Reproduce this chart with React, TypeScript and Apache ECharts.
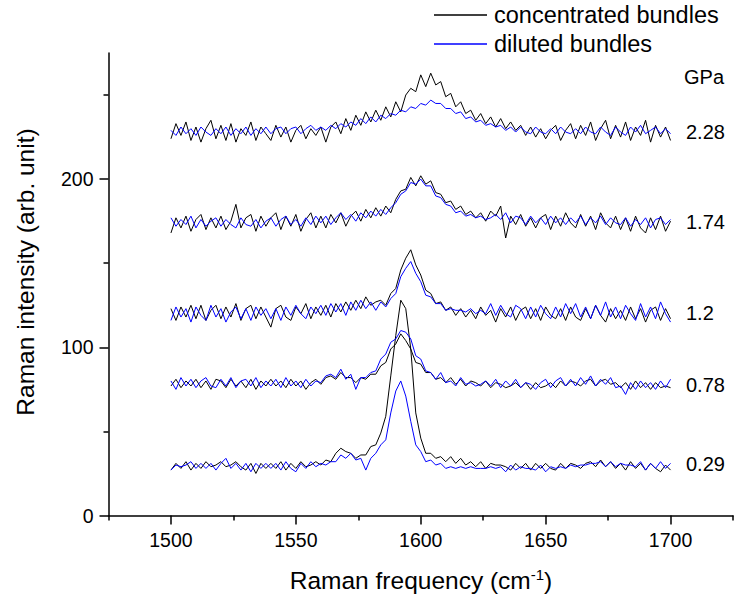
import React, { useEffect, useRef } from "react";
import * as echarts from "echarts";

// Raman frequency sample grid (cm-1)
const freq: number[] = Array.from({ length: 101 }, (_, i) => 1500 + 2 * i);

// 0.29 GPa
const conc029 = [
  27, 31, 28, 32, 27, 31, 28, 32, 29, 30,
  32, 29, 30, 32, 29, 27, 31, 25, 31, 28,
  31, 28, 32, 27, 31, 28, 32, 29, 30, 32,
  30, 33, 32, 37, 40, 38, 37, 34, 36, 36,
  41, 42, 49, 59, 83, 107, 128, 123, 99, 61,
  46, 37, 37, 34, 35, 32, 35, 31, 34, 30,
  32, 29, 32, 28, 31, 30, 30, 29, 27, 31,
  28, 31, 27, 31, 28, 31, 28, 27, 31, 28,
  31, 30, 28, 31, 32, 29, 33, 29, 32, 28,
  31, 27, 32, 28, 31, 27, 31, 28, 26, 30, 27,
];
const dil029 = [
  27, 30, 29, 30, 32, 28, 31, 28, 31, 27,
  31, 34, 28, 31, 27, 31, 26, 31, 28, 31,
  28, 31, 27, 32, 28, 26, 31, 28, 32, 29,
  31, 30, 32, 32, 36, 34, 37, 33, 34, 27,
  34, 37, 42, 45, 61, 74, 80, 71, 56, 42,
  38, 32, 33, 30, 31, 28, 29, 28, 29, 28,
  29, 28, 28, 28, 29, 28, 29, 26, 30, 27,
  29, 28, 28, 27, 30, 26, 29, 28, 29, 28,
  30, 29, 30, 30, 31, 31, 32, 29, 32, 29,
  31, 30, 30, 29, 32, 27, 31, 28, 32, 28, 31,
];

// 0.78 GPa
const conc078 = [
  77, 81, 76, 80, 77, 81, 76, 80, 75, 81,
  80, 76, 81, 77, 80, 76, 81, 75, 80, 77,
  81, 77, 80, 76, 81, 77, 80, 75, 79, 81,
  78, 82, 83, 81, 85, 82, 82, 79, 82, 81,
  84, 84, 89, 91, 99, 102, 108, 104, 99, 91,
  90, 85, 85, 81, 82, 79, 82, 78, 81, 77,
  80, 79, 77, 80, 76, 79, 78, 76, 77, 79,
  76, 79, 75, 79, 76, 77, 79, 76, 80, 77,
  80, 79, 77, 80, 81, 77, 80, 81, 78, 79,
  76, 79, 75, 80, 76, 79, 75, 79, 76, 77, 76,
];
const dil078 = [
  80, 75, 82, 77, 81, 76, 80, 82, 77, 76,
  81, 77, 82, 76, 80, 81, 77, 82, 76, 80,
  77, 81, 76, 82, 77, 80, 76, 81, 77, 80,
  79, 83, 84, 82, 87, 81, 84, 75, 82, 82,
  85, 86, 93, 96, 103, 105, 110, 109, 105, 95,
  93, 86, 85, 81, 85, 79, 80, 77, 82, 78,
  79, 77, 78, 80, 77, 81, 76, 80, 77, 81,
  76, 79, 78, 75, 79, 81, 76, 80, 82, 77,
  81, 77, 82, 78, 83, 77, 81, 78, 82, 76,
  77, 72, 79, 75, 80, 76, 79, 75, 80, 76, 81,
];

// 1.2 GPa
const conc12 = [
  123, 116, 124, 118, 125, 117, 125, 116, 122, 125,
  117, 124, 118, 126, 116, 123, 125, 117, 124, 118,
  112, 123, 125, 118, 116, 124, 120, 126, 117, 124,
  119, 125, 118, 126, 121, 127, 122, 128, 123, 130,
  125, 127, 128, 125, 132, 135, 146, 153, 158, 149,
  143, 134, 132, 126, 127, 122, 124, 119, 123, 118,
  122, 117, 124, 119, 122, 115, 123, 118, 124, 116,
  122, 124, 117, 123, 116, 124, 119, 117, 123, 116,
  124, 118, 116, 123, 117, 125, 119, 115, 123, 117,
  122, 116, 124, 117, 123, 115, 122, 124, 116, 123, 117,
];
const dil12 = [
  116, 124, 118, 123, 115, 124, 119, 116, 125, 118,
  123, 115, 121, 124, 117, 123, 116, 124, 119, 123,
  117, 123, 116, 124, 119, 125, 120, 117, 124, 120,
  125, 119, 126, 121, 126, 119, 127, 122, 128, 123,
  127, 122, 127, 124, 129, 132, 142, 147, 151, 144,
  139, 131, 130, 126, 126, 122, 123, 122, 122, 121,
  123, 120, 122, 120, 126, 119, 125, 120, 118, 125,
  123, 117, 124, 118, 125, 120, 117, 124, 118, 126,
  120, 126, 118, 124, 117, 125, 119, 127, 118, 124,
  117, 125, 120, 116, 126, 118, 124, 117, 127, 120, 115,
];

// 1.74 GPa
const conc174 = [
  168, 177, 171, 178, 169, 176, 179, 170, 177, 171,
  178, 170, 175, 185, 171, 177, 179, 169, 178, 172,
  177, 180, 170, 178, 172, 179, 169, 176, 180, 171,
  178, 171, 179, 174, 180, 172, 178, 181, 175, 182,
  177, 183, 178, 184, 180, 188, 193, 194, 201, 196,
  202, 197, 199, 192, 191, 186, 187, 182, 184, 179,
  181, 177, 180, 175, 181, 178, 184, 165, 178, 173,
  179, 172, 177, 171, 177, 179, 170, 178, 172, 180,
  174, 171, 179, 172, 178, 170, 180, 174, 171, 178,
  170, 177, 169, 178, 171, 168, 177, 170, 178, 169, 175,
];
const dil174 = [
  177, 172, 176, 173, 178, 171, 176, 172, 175, 177,
  172, 176, 173, 171, 177, 173, 172, 176, 171, 175,
  177, 172, 176, 178, 173, 176, 172, 177, 173, 178,
  174, 178, 173, 177, 180, 176, 179, 175, 180, 177,
  181, 178, 182, 179, 183, 186, 191, 193, 198, 197,
  200, 196, 196, 190, 189, 185, 184, 180, 181, 178,
  179, 177, 178, 176, 177, 179, 176, 180, 174, 178,
  177, 173, 178, 174, 177, 173, 178, 174, 177, 173,
  177, 174, 178, 173, 177, 174, 178, 173, 177, 174,
  173, 177, 172, 176, 173, 177, 171, 176, 177, 173, 176,
];

// 2.28 GPa
const conc228 = [
  224, 233, 226, 234, 223, 231, 222, 230, 235, 224,
  232, 223, 233, 222, 230, 226, 234, 223, 231, 227,
  223, 232, 225, 231, 222, 229, 232, 224, 230, 226,
  231, 222, 231, 234, 227, 236, 229, 238, 232, 240,
  234, 241, 235, 243, 237, 246, 240, 250, 254, 252,
  262, 255, 263, 256, 258, 249, 251, 243, 246, 239,
  241, 235, 239, 233, 237, 231, 236, 230, 234, 229,
  232, 226, 231, 225, 230, 224, 229, 232, 223, 229,
  233, 224, 232, 226, 234, 223, 230, 235, 224, 232,
  225, 234, 223, 231, 226, 235, 222, 232, 225, 231, 223,
];
const dil228 = [
  229, 226, 231, 227, 230, 226, 231, 228, 226, 230,
  227, 231, 226, 230, 227, 231, 226, 230, 227, 231,
  227, 230, 231, 227, 230, 231, 227, 230, 232, 229,
  231, 229, 232, 230, 233, 231, 234, 232, 236, 233,
  237, 234, 238, 236, 239, 238, 241, 240, 243, 242,
  245, 244, 247, 245, 245, 242, 242, 239, 240, 236,
  237, 234, 235, 232, 233, 231, 232, 229, 231, 228,
  231, 228, 227, 231, 228, 227, 230, 227, 231, 228,
  227, 230, 227, 231, 228, 227, 231, 228, 226, 231,
  228, 226, 231, 228, 232, 227, 229, 231, 227, 230, 227,
];

const concentrated = [conc029, conc078, conc12, conc174, conc228];
const diluted = [dil029, dil078, dil12, dil174, dil228];
const pressureLabels = ["0.29", "0.78", "1.2", "1.74", "2.28"];
const pressureLabelY = [464, 385, 313, 222, 132];

const xMajor = [1500, 1550, 1600, 1650, 1700];
const xMinor = [1475, 1525, 1575, 1625, 1675, 1725];
const yMajor = [0, 100, 200];
const yMinor = [50, 150, 250];

const FONT = "'Liberation Sans', Arial, sans-serif";

export default function App() {
  const ref = useRef<HTMLDivElement>(null);
  useEffect(() => {
    if (!ref.current) return;
    const chart = echarts.init(ref.current, undefined, { renderer: "svg" });
    const toPairs = (arr: number[]) => arr.map((v, i) => [freq[i], v]);
    const series: any[] = [];
    for (let k = 0; k < concentrated.length; k++) {
      series.push({
        name: "concentrated bundles",
        type: "line",
        data: toPairs(concentrated[k]),
        showSymbol: false,
        symbol: "none",
        lineStyle: { color: "#000000", width: 1 },
        z: 2,
      });
      series.push({
        name: "diluted bundles",
        type: "line",
        data: toPairs(diluted[k]),
        showSymbol: false,
        symbol: "none",
        lineStyle: { color: "#0000ff", width: 1 },
        z: 3,
      });
    }
    const graphics: any[] = [
      {
        type: "line",
        shape: { x1: 434, y1: 15, x2: 487, y2: 15 },
        style: { stroke: "#000", lineWidth: 1.3 },
      },
      {
        type: "text",
        x: 494,
        y: 15,
        style: { text: "concentrated bundles", font: `23.5px ${FONT}`, fill: "#000", verticalAlign: "middle" },
      },
      {
        type: "line",
        shape: { x1: 434, y1: 44, x2: 487, y2: 44 },
        style: { stroke: "#0000ff", lineWidth: 1.3 },
      },
      {
        type: "text",
        x: 494,
        y: 44,
        style: { text: "diluted bundles", font: `23.5px ${FONT}`, fill: "#000", verticalAlign: "middle" },
      },
      {
        type: "text",
        x: 684,
        y: 77,
        style: { text: "GPa", font: `20px ${FONT}`, fill: "#000", verticalAlign: "middle" },
      },
      {
        type: "text",
        x: 25,
        y: 272,
        rotation: Math.PI / 2,
        style: {
          text: "Raman intensity (arb. unit)",
          font: `24.5px ${FONT}`,
          fill: "#000",
          align: "center",
          verticalAlign: "middle",
        },
      },
      {
        type: "text",
        x: 421,
        y: 580,
        style: {
          text: "Raman frequency (cm{sup|-1})",
          font: `24.5px ${FONT}`,
          fill: "#000",
          align: "center",
          verticalAlign: "middle",
          rich: {
            sup: { fontSize: 15, fontFamily: FONT, verticalAlign: "top", padding: [0, 0, 12, 0] },
          },
        },
      },
    ];
    pressureLabels.forEach((t, i) => {
      graphics.push({
        type: "text",
        x: 686,
        y: pressureLabelY[i],
        style: { text: t, font: `20px ${FONT}`, fill: "#000", verticalAlign: "middle" },
      });
    });

    const plain = (v: number) => String(v);

    chart.setOption({
      animation: false,
      backgroundColor: "#ffffff",
      grid: { left: 108.5, right: 2, top: 53, bottom: 83.5, containLabel: false },
      xAxis: [
        {
          type: "value",
          min: 1475,
          max: 1725,
          position: "bottom",
          axisLine: { show: true, onZero: false, lineStyle: { color: "#000", width: 1.5 } },
          axisTick: { show: true, customValues: xMajor, length: 9, lineStyle: { color: "#000", width: 1.5 } },
          axisLabel: { customValues: xMajor, formatter: plain, margin: 14, fontSize: 19.5, fontFamily: FONT, color: "#000" },
          splitLine: { show: false },
        },
        {
          type: "value",
          min: 1475,
          max: 1725,
          position: "bottom",
          axisLine: { show: false, onZero: false },
          axisTick: { show: true, customValues: xMinor, length: 5, lineStyle: { color: "#000", width: 1.5 } },
          axisLabel: { show: false },
          splitLine: { show: false },
        },
      ],
      yAxis: [
        {
          type: "value",
          min: 0,
          max: 275,
          position: "left",
          axisLine: { show: true, onZero: false, lineStyle: { color: "#000", width: 1.5 } },
          axisTick: { show: true, customValues: yMajor, length: 9, lineStyle: { color: "#000", width: 1.5 } },
          axisLabel: { customValues: yMajor, formatter: plain, margin: 15, fontSize: 19.5, fontFamily: FONT, color: "#000" },
          splitLine: { show: false },
        },
        {
          type: "value",
          min: 0,
          max: 275,
          position: "left",
          axisLine: { show: false, onZero: false },
          axisTick: { show: true, customValues: yMinor, length: 5, lineStyle: { color: "#000", width: 1.5 } },
          axisLabel: { show: false },
          splitLine: { show: false },
        },
      ],
      series,
      graphic: graphics,
    });
    return () => chart.dispose();
  }, []);
  return (
    <div
      ref={ref}
      style={{ position: "fixed", left: 0, top: 0, width: 735, height: 599, background: "#fff" }}
    />
  );
}
